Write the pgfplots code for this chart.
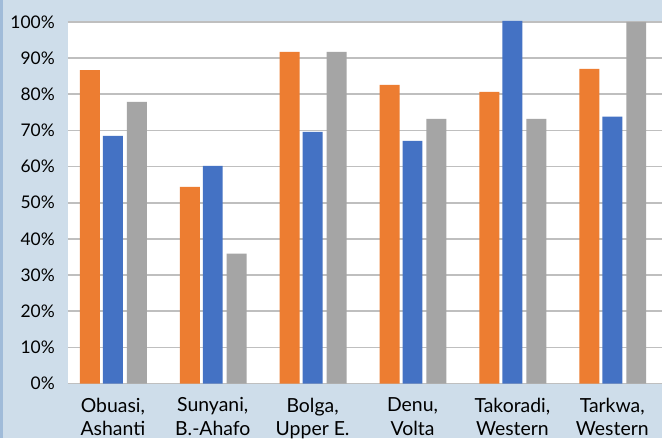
\documentclass[border=0pt]{standalone}
\usepackage{pgfplots}
\pgfplotsset{compat=1.18}
\usepackage{fontspec}
\setmainfont{Lato}
\definecolor{bgblue}{HTML}{CEDDEA}
\definecolor{stripblue}{HTML}{A0BBD9}
\definecolor{barorange}{HTML}{ED7D31}
\definecolor{barblue}{HTML}{4472C4}
\definecolor{bargray}{HTML}{A5A5A5}
\definecolor{gridgray}{HTML}{BFBFBF}
\begin{document}
\begin{tikzpicture}
\fill[bgblue] (0,0) rectangle (663bp,439bp);
\fill[stripblue] (0,0) rectangle (3bp,439bp);
\begin{axis}[
  at={(68bp,55bp)}, anchor=south west,
  scale only axis, width=595bp, height=362bp,
  xmin=-0.45, xmax=5.5, ymin=0, ymax=100,
  axis background/.style={fill=white},
  axis line style={draw=none},
  ymajorgrids, grid style={gridgray, line width=1.6bp},
  major tick length=0pt,
  ytick={0,10,...,100},
  yticklabel={\pgfmathprintnumber{\tick}\%},
  /pgf/number format/assume math mode=true,
  every tick label/.append style={text=black},
  yticklabel style={font=\fontsize{17.5}{21}\selectfont, anchor=east, inner sep=0pt, xshift=-13bp},
  xtick={0,1,2,3,4,5},
  xticklabels={{Obuasi,\\Ashanti},{Sunyani,\\B.-Ahafo},{Bolga,\\Upper E.},{Denu,\\Volta},{Takoradi,\\Western},{Tarkwa,\\Western}},
  xticklabel style={font=\fontsize{19.5}{24}\selectfont, anchor=north, inner sep=0pt, yshift=-14bp, align=center},
  ybar, bar width=20bp,
  clip=false,
]
\addplot[fill=barorange, draw=none, bar shift=-23bp] coordinates {(0,86.7) (1,54.4) (2,91.7) (3,82.6) (4,80.7) (5,87.0)};
\addplot[fill=barblue, draw=none, bar shift=0bp] coordinates {(0,68.5) (1,60.2) (2,69.6) (3,67.1) (4,100.3) (5,73.8)};
\addplot[fill=bargray, draw=none, bar shift=24bp] coordinates {(0,77.9) (1,35.9) (2,91.7) (3,73.2) (4,73.2) (5,100)};
\end{axis}
\end{tikzpicture}
\end{document}
